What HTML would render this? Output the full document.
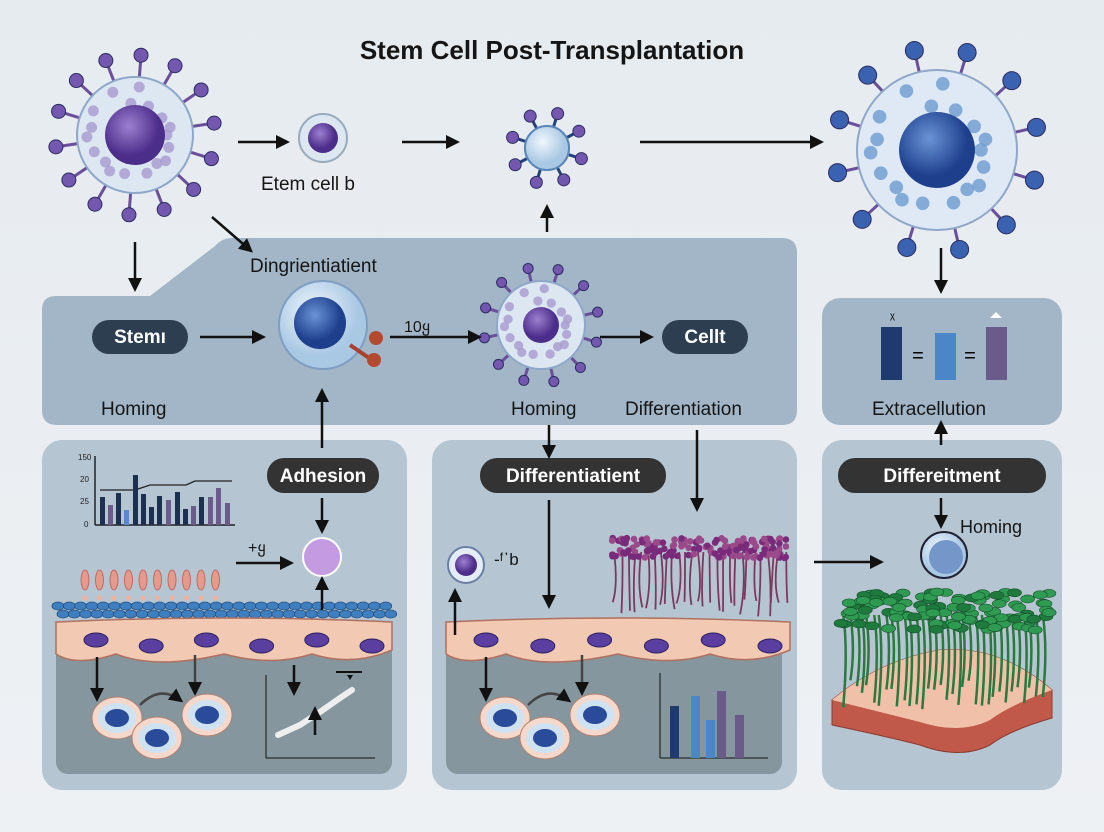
<!DOCTYPE html>
<html><head><meta charset="utf-8"><style>
html,body{margin:0;padding:0}
body{width:1104px;height:832px;overflow:hidden;background:linear-gradient(#e6ebf0,#eef1f4);font-family:"Liberation Sans",sans-serif}
svg{display:block}
text{font-family:"Liberation Sans",sans-serif}
</style></head><body>
<svg id="s" width="1104" height="832" viewBox="0 0 1104 832" xmlns="http://www.w3.org/2000/svg">
<defs>
<marker id="b" markerWidth="14" markerHeight="14" refX="10" refY="7" orient="auto" markerUnits="userSpaceOnUse"><path d="M0,0 L14,7 L0,14 z" fill="#111"/></marker>
<radialGradient id="gp" cx="40%" cy="35%"><stop offset="0" stop-color="#9d7fd0"/><stop offset="1" stop-color="#4b2d8a"/></radialGradient>
<radialGradient id="gb" cx="40%" cy="35%"><stop offset="0" stop-color="#6a93d6"/><stop offset="1" stop-color="#1e3f8c"/></radialGradient>
<radialGradient id="gl" cx="40%" cy="35%"><stop offset="0" stop-color="#f0f6fc"/><stop offset="1" stop-color="#a9c8e4"/></radialGradient>
</defs>
<text x="552" y="59" text-anchor="middle" font-size="26" font-weight="bold" fill="#151515">Stem Cell Post-Transplantation</text>

<path d="M42,310 Q42,296 56,296 L150,296 L215,246 Q222,238 232,238 L782,238 Q797,238 797,253 L797,410 Q797,425 782,425 L57,425 Q42,425 42,410 Z" fill="#a2b6c7"/>
<rect x="822" y="298" width="240" height="127" rx="18" fill="#a2b6c7"/>
<rect x="42" y="440" width="365" height="350" rx="20" fill="#b6c5d2"/>
<rect x="432" y="440" width="365" height="350" rx="20" fill="#b6c5d2"/>
<rect x="822" y="440" width="240" height="350" rx="20" fill="#b6c5d2"/>
<rect x="56" y="640" width="336" height="134" rx="12" fill="#86969f"/>
<rect x="446" y="640" width="336" height="134" rx="12" fill="#86969f"/>

<g id="dyn"></g>

<rect x="92" y="320" width="96" height="34" rx="17" fill="#2c3e50"/><text x="140" y="343" text-anchor="middle" font-size="19" font-weight="bold" fill="#fff">Stemı</text>
<rect x="662" y="320" width="86" height="34" rx="17" fill="#2c3e50"/><text x="705" y="343" text-anchor="middle" font-size="19" font-weight="bold" fill="#fff">Cellt</text>
<rect x="267" y="458" width="112" height="35" rx="17" fill="#333"/><text x="323" y="482" text-anchor="middle" font-size="19" font-weight="bold" fill="#fff">Adhesion</text>
<rect x="480" y="458" width="186" height="35" rx="17" fill="#333"/><text x="573" y="482" text-anchor="middle" font-size="19" font-weight="bold" fill="#fff">Differentiatient</text>
<rect x="838" y="458" width="208" height="35" rx="17" fill="#333"/><text x="942" y="482" text-anchor="middle" font-size="19" font-weight="bold" fill="#fff">Differeitment</text>

<g font-size="19" fill="#151515">
<text x="261" y="190">Etem cell b</text>
<text x="250" y="272">Dingrientiatient</text>
<text x="101" y="415">Homing</text>
<text x="511" y="415">Homing</text>
<text x="625" y="415">Differentiation</text>
<text x="872" y="415">Extracellution</text>
<text x="960" y="533" font-size="18">Homing</text>
<text x="404" y="332" font-size="16">10ყ</text>
<text x="248" y="553" font-size="16">+ყ</text>
<text x="494" y="565" font-size="17">-ᶠ᾽b</text>
</g>

<g stroke="#111" stroke-width="2.5" fill="none" marker-end="url(#b)">
<line x1="238" y1="142" x2="286" y2="142"/>
<line x1="402" y1="142" x2="456" y2="142"/>
<line x1="640" y1="142" x2="820" y2="142"/>
<line x1="135" y1="242" x2="135" y2="288"/>
<line x1="212" y1="217" x2="250" y2="250"/>
<line x1="200" y1="337" x2="262" y2="337"/>
<line x1="390" y1="337" x2="478" y2="337"/>
<line x1="600" y1="337" x2="650" y2="337"/>
<line x1="547" y1="232" x2="547" y2="208"/>
<line x1="941" y1="248" x2="941" y2="290"/>
<line x1="322" y1="448" x2="322" y2="392"/>
<line x1="322" y1="498" x2="322" y2="530"/>
<line x1="236" y1="563" x2="290" y2="563"/>
<line x1="322" y1="610" x2="322" y2="580"/>
<line x1="549" y1="425" x2="549" y2="455"/>
<line x1="549" y1="500" x2="549" y2="605"/>
<line x1="697" y1="430" x2="697" y2="508"/>
<line x1="941" y1="445" x2="941" y2="424"/>
<line x1="941" y1="498" x2="941" y2="525"/>
<line x1="814" y1="562" x2="880" y2="562"/>
<line x1="455" y1="635" x2="455" y2="592"/>
<line x1="97" y1="657" x2="97" y2="698"/>
<line x1="486" y1="657" x2="486" y2="698"/>
<line x1="294" y1="665" x2="294" y2="692"/>
<line x1="315" y1="735" x2="315" y2="710"/>
</g>
<g stroke="#444" stroke-width="2.5" fill="none" marker-end="url(#b)">
<line x1="195" y1="655" x2="195" y2="692"/>
<line x1="582" y1="655" x2="582" y2="692"/>
<path d="M140,705 Q160,685 180,700"/>
<path d="M528,705 Q548,685 568,700"/>
</g>
</svg>
<script>
let seed=7;function rnd(){seed=(seed*16807)%2147483647;return seed/2147483647;}
const g=document.getElementById('dyn');let h='';
function spiky(cx,cy,r,n,body,nuc,nr,ball,stem,spike){h+=`<g>`;for(let i=0;i<n;i++){const a=i/n*6.283+0.3;const x1=cx+Math.cos(a)*r*0.9,y1=cy+Math.sin(a)*r*0.9,x2=cx+Math.cos(a)*(r+spike),y2=cy+Math.sin(a)*(r+spike);h+=`<line x1="${x1}" y1="${y1}" x2="${x2}" y2="${y2}" stroke="${stem}" stroke-width="3"/><circle cx="${x2}" cy="${y2}" r="${ball}" fill="${body==='#dfe9f5'?'#3a62b0':'#7458b0'}" stroke="#2c2c60" stroke-width="1"/>`;}
h+=`<circle cx="${cx}" cy="${cy}" r="${r}" fill="${body}" stroke="#8fa7c8" stroke-width="2"/>`;for(let i=0;i<18;i++){const a=i*2.4,d=r*(0.55+0.35*((i*7)%5)/5);h+=`<circle cx="${cx+Math.cos(a)*d}" cy="${cy+Math.sin(a)*d}" r="${r*0.06+2}" fill="${body==='#dfe9f5'?'#6d9ad0':'#a79ad0'}" opacity=".8"/>`;}
h+=`<circle cx="${cx}" cy="${cy}" r="${nr}" fill="${nuc}"/></g>`;}
spiky(135,135,58,14,'#dde7f2','url(#gp)',30,7,'#6a4f9a',22);
spiky(937,150,80,12,'#dfe9f5','url(#gb)',38,9,'#6a4f9a',22);
spiky(541,325,44,12,'#dde7f2','url(#gp)',18,5,'#6a4f9a',14);
spiky(547,148,22,8,'#cfe2f2','url(#gl)',0,6,'#24427a',14);
h+=`<circle cx="547" cy="148" r="22" fill="url(#gl)" stroke="#5a85b8" stroke-width="2"/>`;
h+=`<circle cx="323" cy="138" r="24" fill="#dde7f2" stroke="#9ab" stroke-width="2"/><circle cx="323" cy="138" r="15" fill="url(#gp)"/>`;
h+=`<circle cx="323" cy="325" r="44" fill="url(#gl)" stroke="#7f9ec2" stroke-width="2"/><circle cx="320" cy="323" r="26" fill="url(#gb)"/><line x1="350" y1="345" x2="372" y2="360" stroke="#a8402c" stroke-width="4"/><circle cx="376" cy="338" r="7" fill="#b34a30"/><circle cx="374" cy="360" r="7" fill="#b34a30"/>`;
h+=`<circle cx="322" cy="557" r="19" fill="#c49be0" stroke="#fff" stroke-width="2"/>`;
h+=`<circle cx="466" cy="565" r="18" fill="#e4ecf6" stroke="#6b7fa6" stroke-width="2"/><circle cx="466" cy="565" r="11" fill="url(#gp)"/>`;
h+=`<circle cx="944" cy="555" r="23" fill="url(#gl)" stroke="#223" stroke-width="2"/><circle cx="946" cy="557" r="17" fill="#7596c8"/>`;
h+=`<rect x="881" y="327" width="21" height="53" fill="#1e3a6e"/><rect x="935" y="333" width="21" height="47" fill="#4a86c8"/><rect x="986" y="327" width="21" height="53" fill="#6a5b8a"/><text x="918" y="362" font-size="20" text-anchor="middle">=</text><text x="970" y="362" font-size="20" text-anchor="middle">=</text><text x="890" y="322" font-size="14">ᵡ</text><polygon points="996,312 990,318 1002,318" fill="#fff"/>`;
h+=`<line x1="95" y1="456" x2="95" y2="525" stroke="#222" stroke-width="1.5"/><line x1="95" y1="525" x2="235" y2="525" stroke="#222" stroke-width="1.5"/><polyline points="100,490 135,490 150,485 186,485 195,481 232,481" stroke="#222" fill="none" stroke-width="1.3"/>`;
const bars=[[100,28,'#1e3050'],[108,20,'#6a5b8a'],[116,32,'#1e3050'],[124,15,'#5a88c8'],[133,50,'#1e3050'],[141,31,'#1e3050'],[149,18,'#1e3050'],[157,29,'#1e3050'],[166,25,'#6a5b8a'],[175,33,'#1e3050'],[183,16,'#1e3050'],[191,19,'#6a5b8a'],[199,28,'#1e3050'],[208,28,'#6a5b8a'],[216,37,'#6a5b8a'],[225,22,'#6a5b8a']];
bars.forEach(b=>h+=`<rect x="${b[0]}" y="${525-b[1]}" width="5" height="${b[1]}" fill="${b[2]}"/>`);
h+=`<g font-size="8" fill="#222"><text x="78" y="460">150</text><text x="80" y="482">20</text><text x="80" y="504">25</text><text x="84" y="527">0</text></g>`;
for(let i=0;i<10;i++){const x=85+i*14.5;h+=`<ellipse cx="${x}" cy="${580}" rx="4" ry="10" fill="#e49a8c" stroke="#c06a60"/><circle cx="${x}" cy="598" r="2.5" fill="#f0b0a0"/>`;}
for(let r=0;r<2;r++)for(let i=0;i<30;i++){h+=`<ellipse cx="${58+i*11.3+r*5}" cy="${606+r*8}" rx="6" ry="4" fill="#3f7fc0" stroke="#24507e" stroke-width=".8"/>`;}
function tissue(x0,x1,y){h+=`<path d="M${x0},${y} Q${(x0+x1)/2},${y-8} ${x1},${y} L${x1},${y+28} Q${x1-40},${y+45} ${x1-80},${y+32} Q${x1-120},${y+45} ${(x0+x1)/2},${y+32} Q${x0+100},${y+48} ${x0+60},${y+32} Q${x0+20},${y+45} ${x0},${y+32} Z" fill="#f2c9b3" stroke="#b07060" stroke-width="1.5"/>`;for(let i=0;i<6;i++){h+=`<ellipse cx="${x0+40+i*(x1-x0-60)/5}" cy="${y+18+(i%2)*6}" rx="12" ry="7" fill="#5a3fa0" stroke="#2d1f60"/>`;}}
tissue(56,392,622);tissue(446,790,622);
function ocell(x,y){h+=`<ellipse cx="${x}" cy="${y}" rx="25" ry="21" fill="#f4d8cc" stroke="#b08070"/><ellipse cx="${x}" cy="${y}" rx="19" ry="15" fill="#cfe2f2"/><ellipse cx="${x}" cy="${y}" rx="12" ry="9" fill="#2a4a9a"/>`;}
ocell(117,718);ocell(157,738);ocell(207,715);ocell(505,718);ocell(545,738);ocell(595,715);
h+=`<line x1="266" y1="675" x2="266" y2="758" stroke="#111"/><line x1="266" y1="758" x2="375" y2="758" stroke="#111"/><path d="M278,735 L300,725 L320,712 L340,698 L352,690" stroke="#eee" stroke-width="6" stroke-linecap="round" fill="none"/><line x1="336" y1="672" x2="362" y2="672" stroke="#111" stroke-width="2"/><polygon points="347,675 353,675 350,680" fill="#111"/>`;
h+=`<line x1="660" y1="673" x2="660" y2="758" stroke="#111"/><line x1="660" y1="758" x2="768" y2="758" stroke="#111"/>`;
[[670,52,'#1e3a6e'],[691,62,'#4a86c8'],[706,38,'#4a86c8'],[717,67,'#6a5b8a'],[735,43,'#6a5b8a']].forEach(b=>h+=`<rect x="${b[0]}" y="${758-b[1]}" width="9" height="${b[1]}" fill="${b[2]}"/>`);
// purple hairs
for(let i=0;i<28;i++){const x=614+i*6.3+rnd()*3;h+=`<path d="M${x},552 Q${x+5*(rnd()-.5)*2},585 ${x+(rnd()-.5)*6},${598+rnd()*20}" stroke="#7a3a60" stroke-width="1.8" fill="none"/>`;}
for(let i=0;i<160;i++){h+=`<circle cx="${612+rnd()*175}" cy="${538+rnd()*20}" r="3.3" fill="${i%2?'#7a2a7a':'#9a4a8a'}"/>`;}
// right tissue
h+=`<path d="M832,700 Q880,660 940,650 Q1000,645 1052,690 L1052,718 Q1010,730 990,745 Q960,760 920,745 Q880,735 832,725 Z" fill="#c0594a" stroke="#8a3a30"/><path d="M832,700 Q880,660 940,650 Q1000,645 1052,690 Q1010,705 990,720 Q960,735 920,722 Q880,712 832,700 Z" fill="#f0c0a8"/>`;
for(let i=0;i<34;i++){const x=842+i*6+rnd()*3;h+=`<path d="M${x},615 Q${x+5},650 ${x},${680+rnd()*30}" stroke="#2a7a40" stroke-width="2.5" fill="none"/>`;}
for(let i=0;i<120;i++){h+=`<ellipse cx="${838+rnd()*212}" cy="${592+rnd()*38}" rx="7" ry="4" fill="${i%3?'#2f9a52':'#1f7a3e'}" stroke="#15502a" stroke-width=".6"/>`;}
g.innerHTML=h;
</script>
</body></html>
